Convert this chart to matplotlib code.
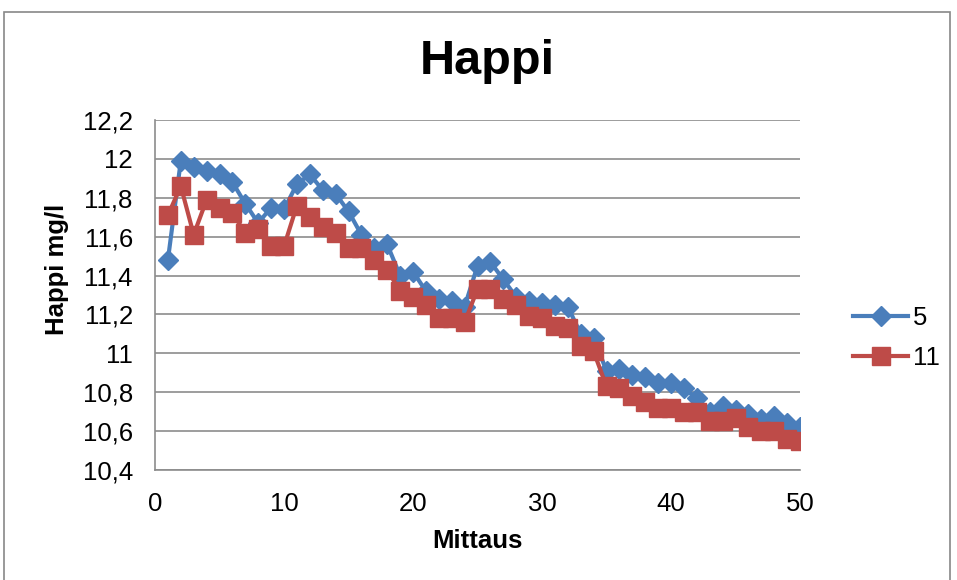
import matplotlib

matplotlib.use("Agg")
import matplotlib.pyplot as plt
from matplotlib.patches import Rectangle

plt.rcParams["font.family"] = ["Liberation Sans", "DejaVu Sans"]

mittaus = list(range(1, 51))
happi_5 = [
    11.48, 11.99, 11.96, 11.94, 11.92, 11.88, 11.77, 11.67, 11.75, 11.74,
    11.87, 11.92, 11.84, 11.82, 11.73, 11.61, 11.54, 11.56, 11.40, 11.42,
    11.32, 11.28, 11.27, 11.24, 11.45, 11.47, 11.38, 11.29, 11.27, 11.26,
    11.25, 11.24, 11.10, 11.08, 10.91, 10.92, 10.89, 10.88, 10.85, 10.85,
    10.82, 10.77, 10.70, 10.73, 10.71, 10.69, 10.66, 10.68, 10.64, 10.62,
]
happi_11 = [
    11.71, 11.86, 11.61, 11.79, 11.75, 11.72, 11.62, 11.64, 11.55, 11.55,
    11.76, 11.70, 11.65, 11.62, 11.54, 11.54, 11.48, 11.43, 11.32, 11.29,
    11.25, 11.18, 11.18, 11.16, 11.33, 11.33, 11.28, 11.25, 11.19, 11.18,
    11.14, 11.13, 11.04, 11.01, 10.83, 10.82, 10.78, 10.75, 10.72, 10.72,
    10.70, 10.70, 10.65, 10.65, 10.67, 10.62, 10.60, 10.60, 10.56, 10.55,
]
y_ticks = [10.4, 10.6, 10.8, 11.0, 11.2, 11.4, 11.6, 11.8, 12.0, 12.2]
y_labels = ["10,4", "10,6", "10,8", "11", "11,2", "11,4", "11,6", "11,8", "12", "12,2"]
x_ticks = [0, 10, 20, 30, 40, 50]

W, H = 957, 580
fig = plt.figure(figsize=(W / 100, H / 100), dpi=100)
ax = fig.add_axes([155 / W, 110 / H, 645 / W, 350 / H])

# chart-area frame
fig.patches.append(Rectangle((4 / W, -0.01), 946 / W, 1 - 12 / H + 0.01,
                             transform=fig.transFigure, fill=False,
                             edgecolor="#888888", linewidth=1.2))

ax.plot(mittaus, happi_5, color="#4A7EBB", linewidth=3, marker="D",
        markersize=10, markerfacecolor="#4A7EBB", markeredgecolor="#4A7EBB",
        label="5", zorder=3)
ax.plot(mittaus, happi_11, color="#BE4B48", linewidth=3, marker="s",
        markersize=13, markerfacecolor="#BE4B48", markeredgecolor="#BE4B48",
        label="11", zorder=4)

ax.set_xlim(0, 50)
ax.set_ylim(10.4, 12.2)
ax.set_xticks(x_ticks)
ax.set_yticks(y_ticks)
ax.set_yticklabels(y_labels)
ax.tick_params(length=0, labelsize=18.5, pad=16)
ax.grid(axis="y", color="#8c8c8c", linewidth=1.2)
ax.set_axisbelow(True)
for side in ("top", "right"):
    ax.spines[side].set_visible(False)
for side in ("left", "bottom"):
    ax.spines[side].set_color("#8c8c8c")
    ax.spines[side].set_linewidth(1.2)

fig.text(477 / W, 1 - 541 / H, "Mittaus", fontsize=18.5, fontweight="bold",
         ha="center", va="center")
fig.text(57 / W, 1 - 269 / H, "Happi mg/l", fontsize=18.5, fontweight="bold",
         ha="center", va="center", rotation=90)
fig.text(487 / W, 1 - 62 / H, "Happi", fontsize=35, fontweight="bold",
         ha="center", va="center")

fig.legend(loc="center left", bbox_to_anchor=(853 / W, 1 - 338 / H),
           frameon=False, fontsize=18.5, handlelength=2.15,
           handletextpad=0.2, labelspacing=0.65, borderpad=0,
           borderaxespad=0)

fig.savefig("out.png", dpi=100)
